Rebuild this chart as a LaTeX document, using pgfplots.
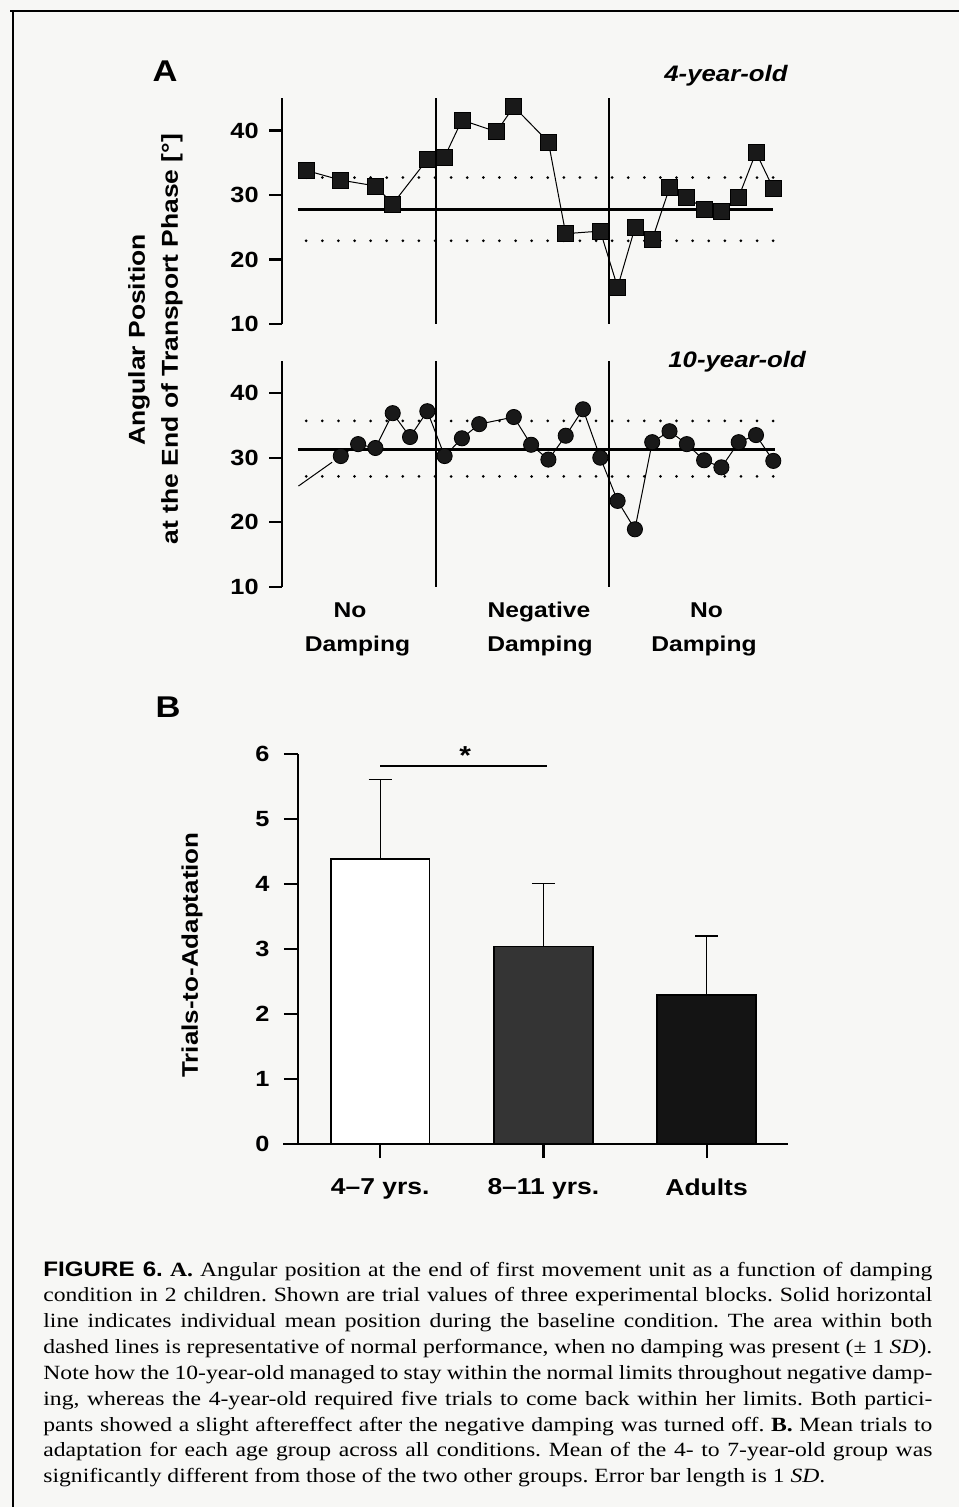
\documentclass[border=0pt]{standalone}
\usepackage{pgfplots}
\usepackage{pgfplotstable}
\pgfplotsset{compat=1.18}
\usepackage{fontspec}
\setmainfont{Liberation Serif}[FakeStretch=1.17]
\newfontfamily\hb{Liberation Sans}[FakeStretch=1.15]
\definecolor{bg}{RGB}{247,247,245}
\definecolor{barA}{RGB}{52,52,52}
\definecolor{barB}{RGB}{20,20,20}
\definecolor{mk}{RGB}{25,25,25}

\pgfplotstableread{
x y
0 33.8
2 32.3
4 31.4
5 28.6
7 35.5
8 35.9
9 41.6
11 39.8
12 43.7
14 38.2
15 24.0
17 24.4
18 15.7
19 24.9
20 23.1
21 31.1
22 29.7
23 27.8
24 27.5
25 29.7
26 36.6
27 31.0
}\fouryr

\pgfplotstableread{
x y
2 30.25
3 32.1
4 31.5
5 36.9
6 33.2
7 37.2
8 30.25
9 33.0
10 35.2
12 36.3
13 32.0
14 29.7
15 33.4
16 37.5
17 30.0
18 23.3
19 18.9
20 32.4
21 34.1
22 32.1
23 29.6
24 28.5
25 32.4
26 33.5
27 29.5
}\tenyr

\pgfplotsset{
  panelA/.style={anchor=south west, scale only axis, width=254.3pt, height=112.9pt,
    xmin=-1.4, xmax=28, ymin=10, ymax=45, axis x line=none, axis y line*=left,
    ytick={10,20,30,40}, tick align=outside, major tick length=6.5pt,
    axis line style={line width=1.1pt}, every tick/.style={line width=1.1pt, black},
    yticklabel style={font=\hb\bfseries\fontsize{11}{12}\selectfont, inner sep=0pt, xshift=-5pt},
    /pgf/number format/assume math mode=true, clip=false},
  sep/.style={line width=0.8pt, no marks, black},
  meanl/.style={line width=1.4pt, no marks, black},
  dotl/.style={line width=1.5pt, no marks, black, line cap=round, dash pattern=on 0pt off 8.05pt},
  errb/.style={error bars/.cd, y dir=plus, y explicit,
    error bar style={line width=0.7pt, black},
    error mark options={rotate=90, mark size=5.75pt, line width=0.7pt, black}},
}

\begin{document}
\begin{tikzpicture}
\path[use as bounding box] (0,0) rectangle (479.5pt,-753.5pt);
\fill[bg] (0,0) rectangle (479.5pt,-753.5pt);
\draw[line width=0.9pt] (5pt,-5.5pt) -- (479.5pt,-5.5pt);
\draw[line width=0.9pt] (6.5pt,-5.5pt) -- (6.5pt,-753.5pt);

% ---- Panel A, top: 4-year-old
\begin{axis}[panelA, at={(141pt,-162pt)}]
\addplot[sep] coordinates {(7.5,10) (7.5,45)};
\addplot[sep] coordinates {(17.5,10) (17.5,45)};
\addplot[meanl] coordinates {(-0.5,27.8) (27,27.8)};
\addplot[dotl] coordinates {(0,32.7) (27,32.7)};
\addplot[dotl] coordinates {(0,22.9) (27,22.9)};
\addplot[line width=0.5pt, black, mark=square*, mark size=4pt,
  mark options={fill=mk, draw=black, line width=0.4pt}] table {\fouryr};
\end{axis}

% ---- Panel A, bottom: 10-year-old
\begin{axis}[panelA, at={(141pt,-293.35pt)}]
\addplot[sep] coordinates {(7.5,10) (7.5,45)};
\addplot[sep] coordinates {(17.5,10) (17.5,45)};
\addplot[meanl] coordinates {(-0.5,31.3) (27.1,31.3)};
\addplot[dotl] coordinates {(0,35.7) (27,35.7)};
\addplot[dotl] coordinates {(0,27.1) (27,27.1)};
\addplot[line width=0.5pt, black, no marks] coordinates {(-0.45,25.6) (1.5,29.3)};
\addplot[line width=0.5pt, black, mark=*, mark size=3.8pt,
  mark options={fill=mk, draw=black, line width=0.4pt}] table {\tenyr};
\end{axis}

% ---- Panel B
\begin{axis}[anchor=south west, at={(148.9pt,-572pt)}, scale only axis,
  width=245.2pt, height=195pt, xmin=-0.505, xmax=2.5, ymin=0, ymax=6,
  axis x line*=bottom, axis y line*=left,
  xtick={0,1,2}, xticklabels={4–7 yrs., 8–11 yrs., Adults},
  ytick={0,1,2,3,4,5,6}, tick align=outside, major tick length=7pt,
  axis line style={line width=1.1pt}, every tick/.style={line width=1.1pt, black},
  yticklabel style={font=\hb\bfseries\fontsize{11}{12}\selectfont, inner sep=0pt, xshift=-7pt},
  xticklabel style={font=\hb\bfseries\fontsize{11.5}{12}\selectfont, inner sep=0pt, yshift=-10pt},
  /pgf/number format/assume math mode=true, clip=false]
\addplot[ybar, bar shift=0pt, bar width=0.605, fill=white, draw=black, line width=0.9pt, errb]
  coordinates {(0,4.38) +- (0,1.23)};
\addplot[ybar, bar shift=0pt, bar width=0.605, fill=barA, draw=black, line width=0.9pt, errb]
  coordinates {(1,3.04) +- (0,0.97)};
\addplot[ybar, bar shift=0pt, bar width=0.605, fill=barB, draw=black, line width=0.9pt, errb]
  coordinates {(2,2.29) +- (0,0.91)};
\addplot[line width=1.1pt, black, no marks] coordinates {(-0.594,0) (-0.505,0)};
\addplot[line width=1pt, black, no marks] coordinates {(0,5.82) (1.02,5.82)};
\node[font=\hb\bfseries\fontsize{13}{14}\selectfont] at (axis cs:0.52,5.98) {*};
\end{axis}

% ---- texts
\begin{scope}[x=0.5pt, y=-0.5pt]
\node[anchor=base, font=\hb\bfseries\fontsize{15}{16}\selectfont, inner sep=0pt] at (165,82) {A};
\node[anchor=base, font=\hb\bfseries\fontsize{15}{16}\selectfont, inner sep=0pt] at (168,717) {B};
\node[anchor=base west, font=\hb\bfseries\itshape\fontsize{11.2}{12}\selectfont, inner sep=0pt] at (664,82) {4-year-old};
\node[anchor=base west, font=\hb\bfseries\itshape\fontsize{11.2}{12}\selectfont, inner sep=0pt] at (668,368) {10-year-old};
\node[rotate=90, font=\hb\bfseries\fontsize{11.5}{12}\selectfont, inner sep=0pt] at (139,340) {Angular Position};
\node[rotate=90, font=\hb\bfseries\fontsize{11.5}{12}\selectfont, inner sep=0pt] at (172,339) {at the End of Transport Phase [°]};
\node[rotate=90, font=\hb\bfseries\fontsize{11.3}{12}\selectfont, inner sep=0pt] at (192,955) {Trials-to-Adaptation};
\begin{scope}[every node/.style={anchor=base, font=\hb\bfseries\fontsize{10.7}{12}\selectfont, inner sep=0pt}]
\node at (350,617) {No};
\node at (357.5,651) {Damping};
\node at (539,617) {Negative};
\node at (540,651) {Damping};
\node at (706.5,617) {No};
\node at (704,651) {Damping};
\end{scope}
\end{scope}

\node[anchor=north west, inner sep=0pt, text width=444.5pt, align=justify,
  font=\fontsize{10.1}{12.92}\selectfont\frenchspacing] at (21.5pt,-630.5pt) {%
{\hb\bfseries\fontsize{10.5}{12.92}\selectfont FIGURE 6.} \textbf{A.} Angular position at the end of first movement unit as a function of damping\linebreak
condition in 2 children. Shown are trial values of three experimental blocks. Solid horizontal\linebreak
line indicates individual mean position during the baseline condition. The area within both\linebreak
dashed lines is representative of normal performance, when no damping was present (± 1 \textit{SD}).\linebreak
Note how the 10-year-old managed to stay within the normal limits throughout negative damp-\linebreak
ing, whereas the 4-year-old required five trials to come back within her limits. Both partici-\linebreak
pants showed a slight aftereffect after the negative damping was turned off. \textbf{B.} Mean trials to\linebreak
adaptation for each age group across all conditions. Mean of the 4- to 7-year-old group was\linebreak
significantly different from those of the two other groups. Error bar length is 1 \textit{SD}.};
\end{tikzpicture}
\end{document}
